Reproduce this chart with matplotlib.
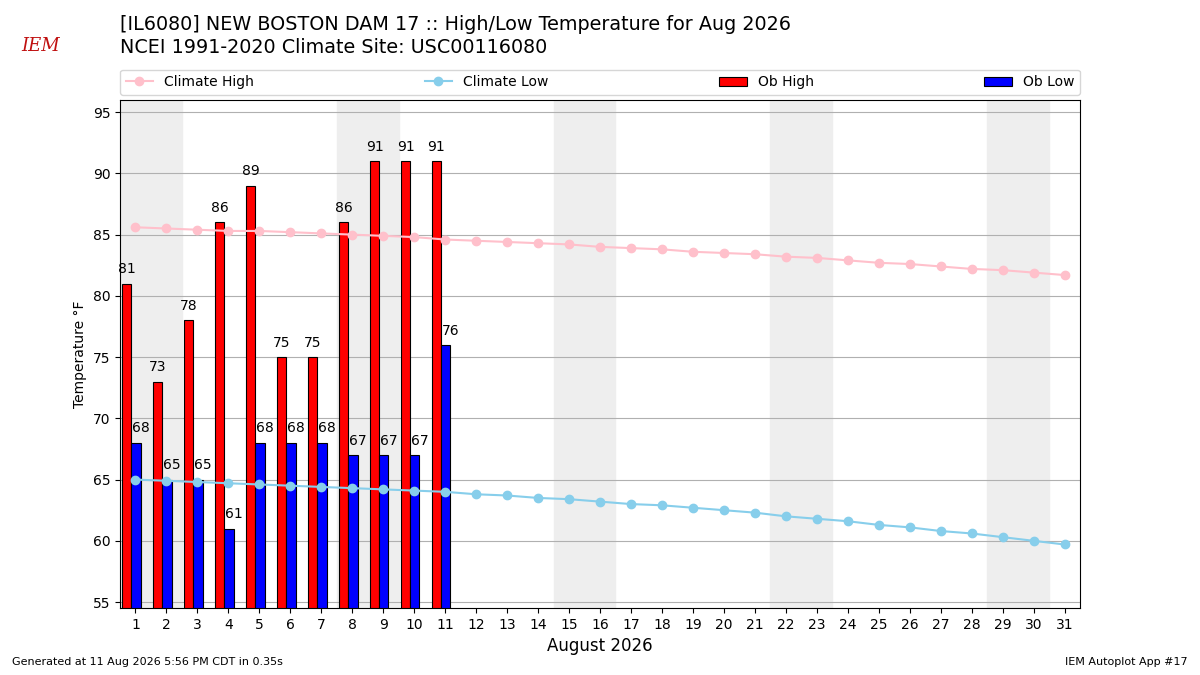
import matplotlib
matplotlib.use("Agg")
import matplotlib.pyplot as plt
import numpy as np

days = list(range(1, 32))
clim_high = [85.6,85.5,85.4,85.3,85.3,85.2,85.1,85.0,84.9,84.8,84.6,84.5,84.4,84.3,84.2,84.0,
             83.9,83.8,83.6,83.5,83.4,83.2,83.1,82.9,82.7,82.6,82.4,82.2,82.1,81.9,81.7]
clim_low = [65.0,64.9,64.8,64.7,64.6,64.5,64.4,64.3,64.2,64.1,64.0,63.8,63.7,63.5,63.4,63.2,
            63.0,62.9,62.7,62.5,62.3,62.0,61.8,61.6,61.3,61.1,60.8,60.6,60.3,60.0,59.7]
ob_days = list(range(1, 12))
ob_high = [81,73,78,86,89,75,75,86,91,91,91]
ob_low = [68,65,65,61,68,68,68,67,67,67,76]
weekend_starts = [1, 8, 15, 22, 29]

fig = plt.figure(figsize=(12, 6.75), dpi=100)
ax = fig.add_axes([0.1, 0.099, 0.8, 0.753])
base = 54.5
for s in weekend_starts:
    ax.axvspan(s - 0.5, s + 1.5, color="#eeeeee", zorder=0)
ax.grid(axis="y", color="#b0b0b0", zorder=1)
ax.set_axisbelow(True)
hx = np.array(ob_days) - 0.28
lx = np.array(ob_days) + 0.02
ax.plot(days, clim_high, "-o", color="pink", lw=1.5, ms=6, label="Climate High", zorder=4)
ax.plot(days, clim_low, "-o", color="skyblue", lw=1.5, ms=6, label="Climate Low", zorder=4)
ax.bar(hx, np.array(ob_high) - base, bottom=base, width=0.3, color="red", edgecolor="black", lw=0.8, label="Ob High", zorder=3)
ax.bar(lx, np.array(ob_low) - base, bottom=base, width=0.3, color="blue", edgecolor="black", lw=0.8, label="Ob Low", zorder=3)
for x, v in zip(hx, ob_high):
    ax.text(x, v + 0.6, str(v), ha="center", va="bottom", fontsize=10, zorder=5)
for x, v in zip(lx, ob_low):
    ax.text(x + 0.15, v + 0.6, str(v), ha="center", va="bottom", fontsize=10, zorder=5)
ax.set_xlim(0.5, 31.5)
ax.set_ylim(base, 96)
ax.set_xticks(days)
ax.set_yticks([55, 60, 65, 70, 75, 80, 85, 90, 95])
ax.tick_params(labelsize=10)
ax.set_ylabel("Temperature °F", fontsize=10)
ax.set_xlabel("August 2026", fontsize=12)
ax.legend(ncol=4, mode="expand", bbox_to_anchor=(0, 1.01, 1, 0.05), loc="lower left",
          fontsize=10, borderaxespad=0)
fig.text(0.1, 0.963, "[IL6080] NEW BOSTON DAM 17 :: High/Low Temperature for Aug 2026", fontsize=13.8, va="center")
fig.text(0.1, 0.93, "NCEI 1991-2020 Climate Site: USC00116080", fontsize=13.8, va="center")
fig.text(0.01, 0.015, "Generated at 11 Aug 2026 5:56 PM CDT in 0.35s", fontsize=8)
fig.text(0.99, 0.015, "IEM Autoplot App #17", fontsize=8, ha="right")
fig.text(0.018, 0.925, "IEM", fontsize=13, color="#c01010", style="italic", family="serif")
fig.savefig("out.png")
